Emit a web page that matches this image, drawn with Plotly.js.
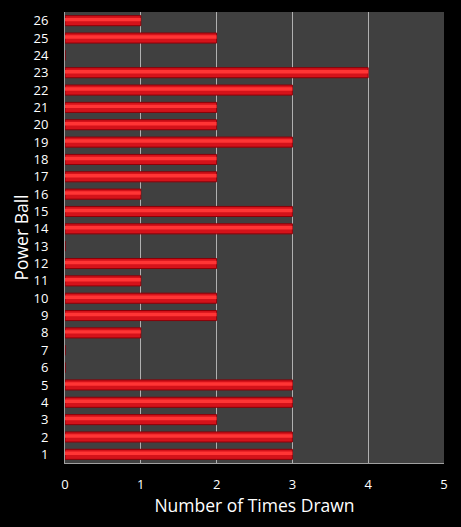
<!DOCTYPE html>
<html><head><meta charset="utf-8">
<script src="https://cdn.plot.ly/plotly-3.0.1.min.js"></script>
<style>html,body{margin:0;padding:0;background:#000;}#c{width:461px;height:527px;}</style>
</head><body><div id="c"></div>
<script>
var balls = ['1','2','3','4','5','6','7','8','9','10','11','12','13','14','15','16','17','18','19','20','21','22','23','24','25','26'];
var timesDrawn = [3,3,2,3,3,0,0,1,2,2,1,2,0,3,3,1,2,2,3,2,2,3,4,0,2,1];
var xTicks = [0,1,2,3,4,5];

var base = {type:'bar', orientation:'h', y:balls, x:timesDrawn, width:0.58,
  marker:{color:'#d4121a', line:{color:'#8a0008', width:1}}, hoverinfo:'x+y'};
var shine = {type:'bar', orientation:'h', y:balls, x:timesDrawn, width:0.2, offset:-0.04,
  marker:{color:'#ff3535', line:{width:0}}, hoverinfo:'skip'};
var layout = {
  width:461, height:527, paper_bgcolor:'#000', plot_bgcolor:'#404040',
  margin:{l:65, r:17, t:12, b:64},
  barmode:'overlay', showlegend:false,
  font:{family:'"Open Sans", Lato, sans-serif', color:'#fff', size:13},
  xaxis:{range:[0,5], tickvals:xTicks, ticktext:xTicks.map(String), showgrid:true, gridcolor:'#b0b0b0', gridwidth:1,
    zeroline:false, showline:true, linecolor:'#a0a0a0', ticks:'', ticklen:0, ticklabelstandoff:9,
    title:{text:'Number of Times Drawn', font:{size:17.5, color:'#fff'}, standoff:4}},
  yaxis:{type:'category', categoryorder:'array', categoryarray:balls, range:[-0.5,25.5], showgrid:false,
    zeroline:false, showline:true, linecolor:'#a0a0a0', ticks:'', ticklen:0, ticklabelstandoff:13,
    title:{text:'Power Ball', font:{size:17.5, color:'#fff'}, standoff:0}}
};
Plotly.newPlot('c', [base, shine], layout, {displayModeBar:false, staticPlot:true});
</script></body></html>
